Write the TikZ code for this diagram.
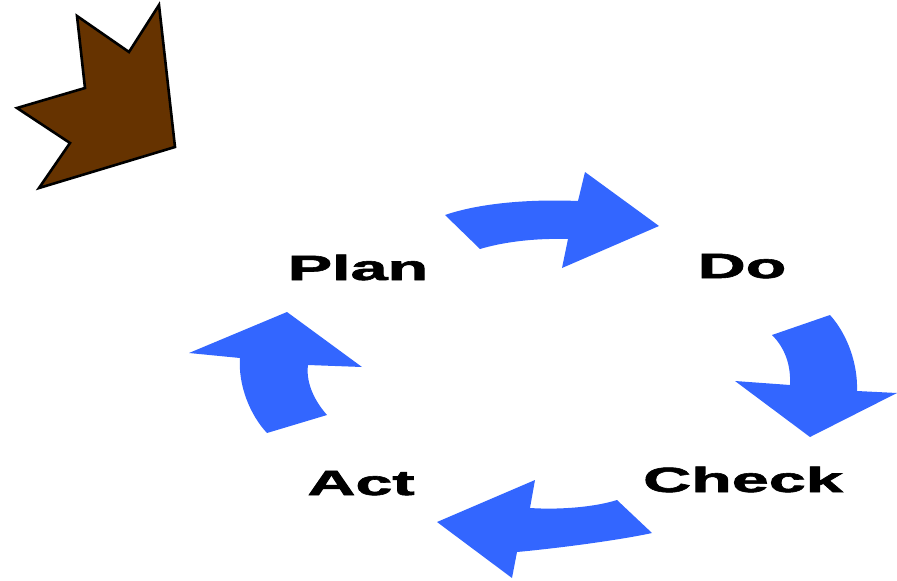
\documentclass[tikz,border=0pt]{standalone}
\usepackage{fontspec}
\setmainfont{Liberation Sans}
\newfontfamily\stagefont[FakeBold=1.6]{Liberation Sans Bold}
\usetikzlibrary{calc}
\definecolor{cycleblue}{HTML}{3366FF}
\definecolor{leafbrown}{HTML}{663300}
\tikzset{
  stagelabel/.style={anchor=base,inner sep=0pt,font=\fontsize{35}{40}\selectfont\stagefont},
  cyclearrow/.style={fill=cycleblue,draw=none}
}
\newcommand{\widetext}[1]{\scalebox{1.9}[1]{#1}}

\begin{document}
\begin{tikzpicture}[x=1pt,y=-1pt]
\useasboundingbox (0,0) rectangle (897,581);
\draw[fill=leafbrown,line width=2.6pt,line join=miter] (77,16) -- (129,52) -- (159,5) -- (175,147) -- (39,188) -- (70,143) -- (17,108) -- (85,88) -- cycle;
% the four stages
\node[stagelabel] (plan) at (358,280) {\widetext{Plan}};
\node[stagelabel] (do) at (742,278) {\widetext{Do}};
\node[stagelabel] (check) at (743,492) {\widetext{Check}};
\node[stagelabel] (act) at (361,495) {\widetext{Act}};
% arrows between them
\fill[cyclearrow] (445,215) .. controls (480,203) and (530,199) .. (578,201) -- (585,172) -- (659,226) -- (562,268) -- (568,239) .. controls (530,238) and (500,243) .. (480,249) -- cycle;
\fill[cyclearrow] (830,315) -- (772,335) .. controls (785,348) and (791,365) .. (790,385) -- (735,381) -- (810,437) -- (897,393) -- (857,391) .. controls (858,365) and (848,335) .. cycle;
\fill[cyclearrow] (617,500) -- (652,533) .. controls (620,540) and (560,548) .. (517,552) -- (512,578) -- (437,522) -- (535,480) -- (530,508) .. controls (560,510) and (595,507) .. cycle;
\fill[cyclearrow] (267,433) -- (327,415) .. controls (312,398) and (306,380) .. (308,365) -- (362,367) -- (287,312) -- (189,353) -- (240,358) .. controls (238,385) and (250,415) .. cycle;
\end{tikzpicture}
\end{document}
